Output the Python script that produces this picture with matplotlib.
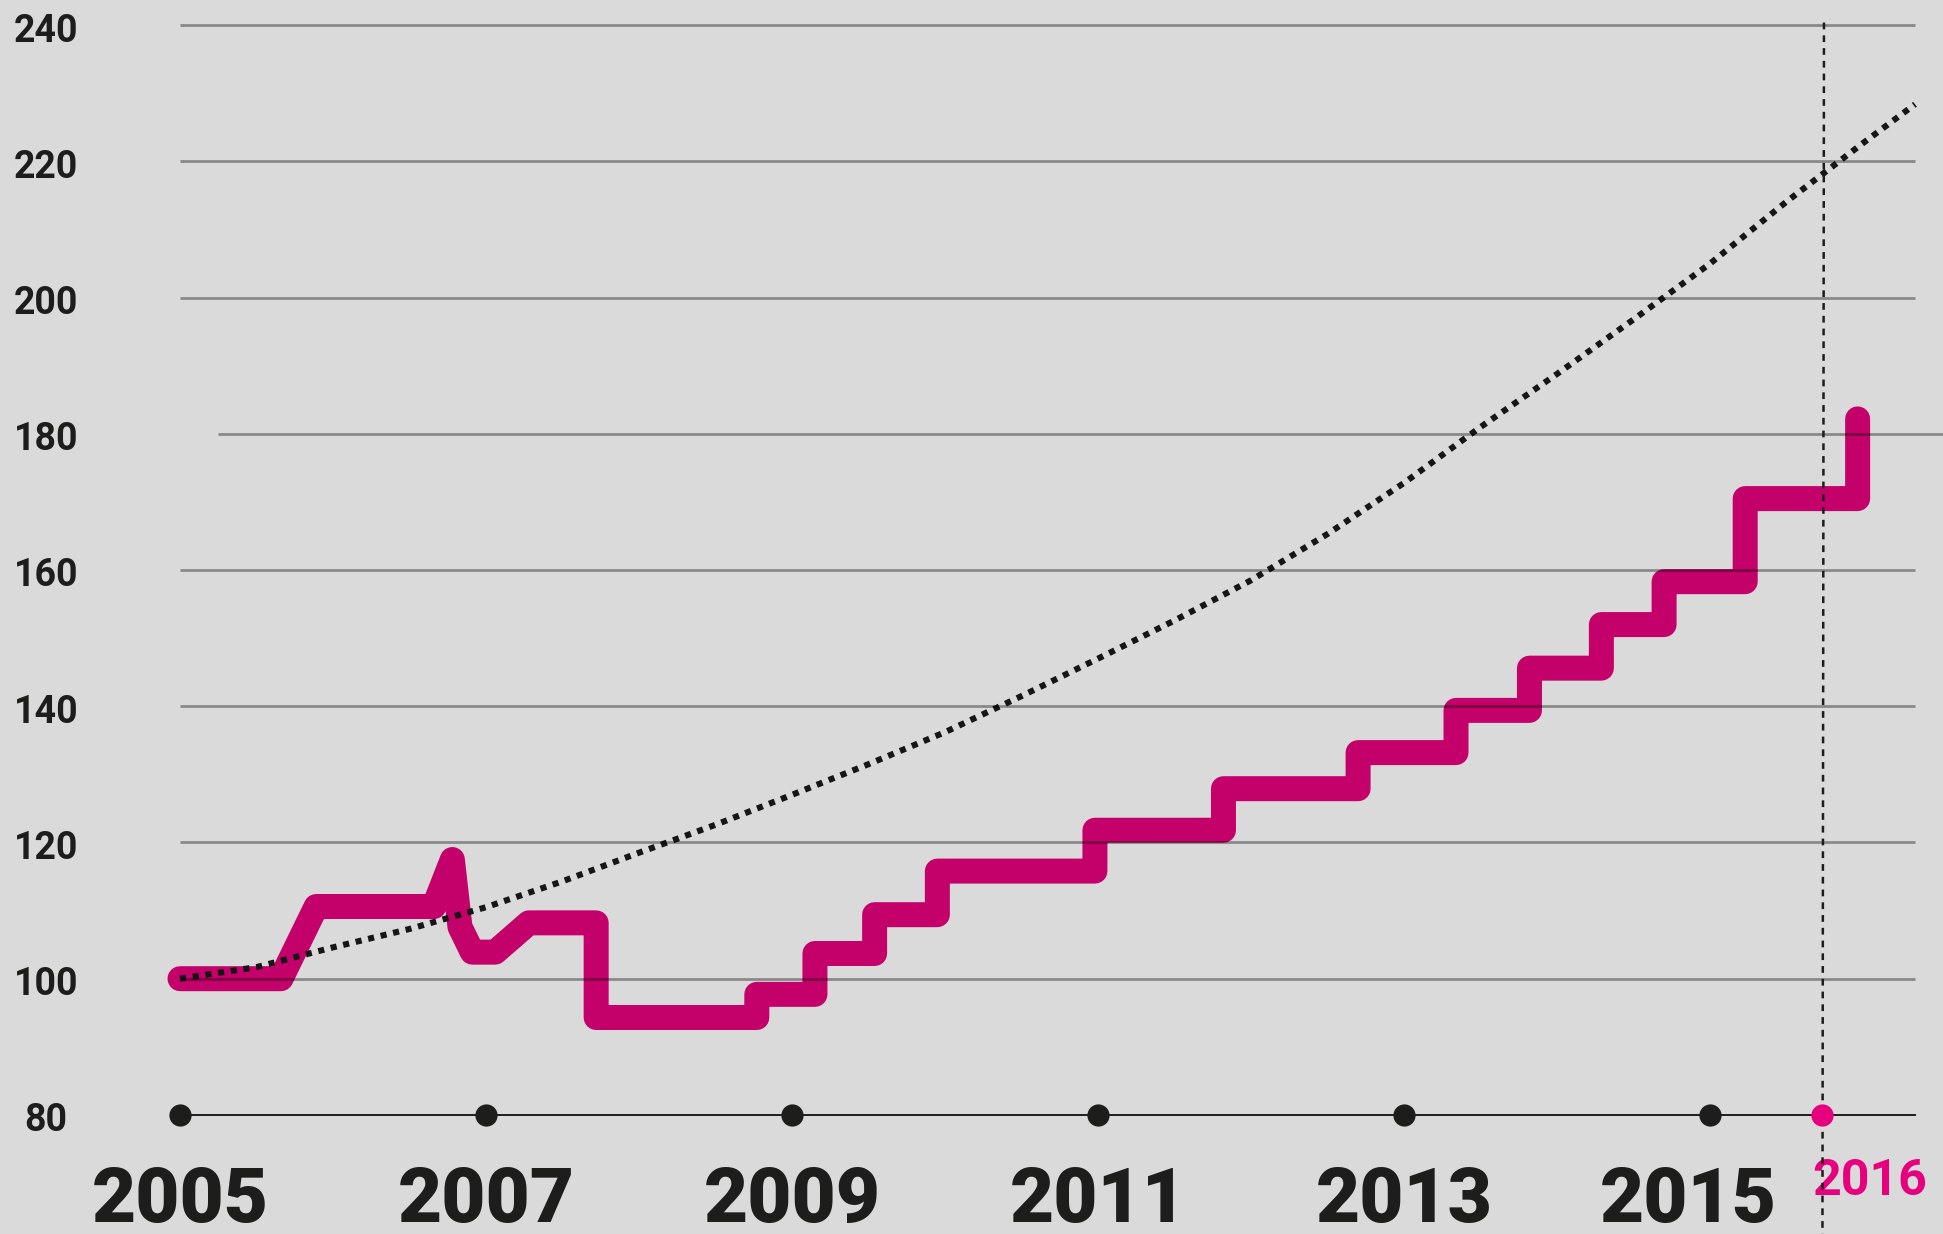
import matplotlib
matplotlib.use("Agg")
import matplotlib.pyplot as plt

# --- data -------------------------------------------------------------
# price index (2005 = 100), vertices of the magenta line
idx_years = [2005.0, 2005.66, 2005.89, 2006.66, 2006.78, 2006.83, 2006.91,
             2007.06, 2007.28, 2007.72, 2007.72, 2008.77, 2008.77, 2009.15,
             2009.15, 2009.54, 2009.54, 2009.95, 2009.95, 2010.98, 2010.98,
             2011.82, 2011.82, 2012.70, 2012.70, 2013.34, 2013.34, 2013.82,
             2013.82, 2014.29, 2014.29, 2014.70, 2014.70, 2015.23, 2015.23,
             2015.965, 2015.965]
idx_values = [100, 100, 110.6, 110.6, 117.5, 107.6, 103.9,
              103.9, 108.2, 108.2, 94.3, 94.3, 97.7, 97.7,
              103.7, 103.7, 109.4, 109.4, 115.8, 115.8, 121.8,
              121.8, 127.9, 127.9, 133.2, 133.2, 139.4, 139.4,
              145.6, 145.6, 152.0, 152.0, 158.3, 158.3, 170.5,
              170.5, 182.2]

# dotted reference curve
ref_years = [2005.0, 2005.5, 2006.0, 2006.5, 2007.0, 2007.5, 2008.0, 2008.5,
             2009.0, 2009.5, 2010.0, 2010.5, 2011.0, 2011.5, 2012.0, 2012.5,
             2013.0, 2013.5, 2014.0, 2014.5, 2015.0, 2015.5, 2016.0, 2016.34]
ref_values = [100.0, 101.7, 104.6, 107.3, 110.5, 114.3, 118.5, 122.6,
              127.0, 131.5, 136.2, 141.5, 147.0, 152.6, 158.5, 165.3,
              172.8, 181.0, 188.8, 196.8, 205.0, 214.1, 222.7, 228.4]

y_ticks = [240, 220, 200, 180, 160, 140, 120, 100, 80]
year_ticks = [2005, 2007, 2009, 2011, 2013, 2015]
year_labels = ["2005", "2007", "2009", "2011", "2013", "2015"]
marker_2016 = 2015.735
label_2016 = "2016"

PINK = "#c4006a"
MAGENTA = "#e6007e"
INK = "#1d1d1b"
BG = "#dadada"

FONT = ["Roboto", "DejaVu Sans"]

fig = plt.figure(figsize=(19.43, 12.34), dpi=100, facecolor=BG)
ax = fig.add_axes([0, 0, 1, 1])
ax.set_facecolor(BG)
ax.set_xlim(2003.8235, 2016.5229)
ax.set_ylim(62.51, 243.715)
ax.axis("off")

grid_left, grid_right = 2005.0, 2016.34

# magenta index line
ax.plot(idx_years, idx_values, color=PINK, lw=18,
        solid_capstyle="round", solid_joinstyle="round", zorder=2)

# dotted trend curve
ax.plot(ref_years, ref_values, color="#161616", lw=4.4, dashes=(1, 1.1),
        dash_capstyle="butt", zorder=3)

# gridlines drawn on top, semi-transparent
for v in y_ticks[:-1]:
    left = 2005.25 if v == 180 else grid_left
    right = 2016.6 if v == 180 else grid_right
    ax.plot([left, right], [v, v], color="black", alpha=0.37, lw=2,
            solid_capstyle="butt", zorder=4)

# 2016 marker line
ax.plot([marker_2016 + 0.01, marker_2016], [240.4, 62.51], color=INK, lw=1.8,
        dashes=(2.7, 2.4), zorder=5)

# baseline with year dots
ax.plot([grid_left, grid_right], [80, 80], color=INK, lw=1.4, zorder=5)
ax.plot(year_ticks, [80] * len(year_ticks), "o", color=INK, ms=16,
        mec="none", zorder=6)
ax.plot([marker_2016], [80], "o", color=MAGENTA, ms=16, mec="none", zorder=6)

# y labels
for v in y_ticks:
    ax.text(2004.124, v - 2.4, str(v), ha="center", va="baseline",
            fontsize=27, fontweight="bold", color=INK, family=FONT)

# year labels
for yr, lab in zip(year_ticks, year_labels):
    x = yr - 0.14 if yr == 2015 else yr
    ax.text(x, 64.3, lab, ha="center", va="baseline", fontsize=55,
            fontweight=900, color=INK, family=FONT)

ax.text(2015.667, 68.2, label_2016, ha="left", va="baseline", fontsize=36,
        fontweight="bold", color=MAGENTA, family=FONT)

fig.savefig("out.png", dpi=100, facecolor=BG)
